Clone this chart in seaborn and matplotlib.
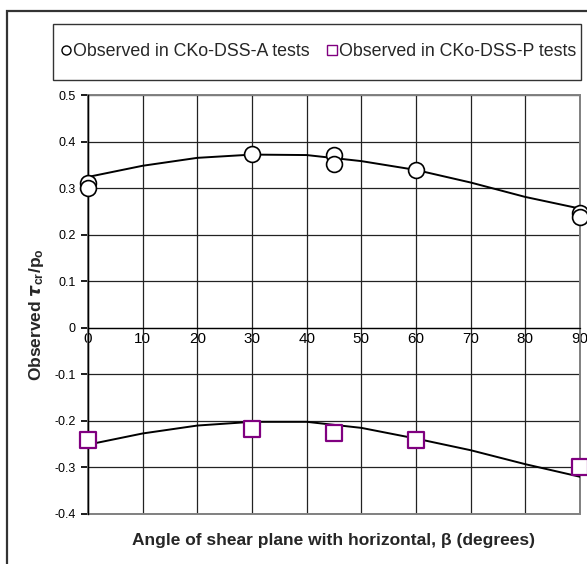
import matplotlib
matplotlib.use("Agg")
import matplotlib.pyplot as plt
from matplotlib.patches import Rectangle
from matplotlib.lines import Line2D
import seaborn as sns
import pandas as pd

sns.set_theme(style="white")
plt.rcParams["font.family"] = ["Liberation Sans", "DejaVu Sans"]
plt.rcParams["mathtext.fontset"] = "custom"
plt.rcParams["mathtext.rm"] = "Liberation Sans"
plt.rcParams["mathtext.bf"] = "Liberation Sans:bold"
plt.rcParams["mathtext.it"] = "Liberation Sans:italic"

# Observed shear strength ratios, active-type tests
beta_a = [0, 0, 30, 45, 45, 60, 90, 90]
tau_a = [0.31, 0.30, 0.373, 0.371, 0.352, 0.339, 0.246, 0.239]

# Observed shear strength ratios, passive-type tests
beta_p = [0, 30, 45, 60, 90]
tau_p = [-0.240, -0.217, -0.225, -0.240, -0.300]

# Trend curves through each data set
beta_fit = [0, 10, 20, 30, 40, 50, 60, 70, 80, 90]
fit_a = [0.324, 0.348, 0.365, 0.372, 0.371, 0.358, 0.339, 0.312, 0.281, 0.256]
fit_p = [-0.251, -0.227, -0.210, -0.202, -0.202, -0.215, -0.238, -0.263, -0.293, -0.320]

x_ticks = [0, 10, 20, 30, 40, 50, 60, 70, 80, 90]
y_ticks = [0.5, 0.4, 0.3, 0.2, 0.1, 0.0, -0.1, -0.2, -0.3, -0.4]

label_a = "Observed in CKo-DSS-A tests"
label_p = "Observed in CKo-DSS-P tests"
purple = "#800080"

fig = plt.figure(figsize=(5.87, 5.64), dpi=100)
ax = fig.add_axes([88 / 587, 1 - 514 / 564, 492 / 587, 419 / 564])

# Grid
for xv in x_ticks:
    ax.axvline(xv, color="#222222", lw=0.9, zorder=1)
for yv in y_ticks:
    ax.axhline(yv, color="#222222", lw=0.9, zorder=1)

fit_df = pd.DataFrame({"beta": beta_fit, "A": fit_a, "P": fit_p})
sns.lineplot(data=fit_df, x="beta", y="A", ax=ax, color="black", lw=1.4, zorder=3)
sns.lineplot(data=fit_df, x="beta", y="P", ax=ax, color="black", lw=1.4, zorder=3)

df_a = pd.DataFrame({"beta": beta_a, "tau": tau_a})
df_p = pd.DataFrame({"beta": beta_p, "tau": tau_p})
sns.scatterplot(data=df_a, x="beta", y="tau", ax=ax, marker="o", s=130,
                facecolor="white", edgecolor="black", linewidth=1.2,
                zorder=5, clip_on=False)
sns.scatterplot(data=df_p, x="beta", y="tau", ax=ax, marker="s", s=125,
                facecolor="white", edgecolor=purple, linewidth=1.6,
                zorder=5, clip_on=False)

ax.set_xlim(0, 90)
ax.set_ylim(-0.4, 0.5)
ax.set_yticks(y_ticks)
ax.set_yticklabels([("%g" % v) for v in y_ticks], fontsize=9)
ax.set_xticks(x_ticks)
ax.set_xticklabels([str(v) for v in x_ticks], fontsize=9)

# x axis crosses at zero, labels sit just under it
ax.spines["bottom"].set_position(("data", 0))
ax.spines["bottom"].set_color("black")
ax.spines["bottom"].set_linewidth(0.9)
ax.spines["left"].set_color("black")
ax.spines["left"].set_linewidth(1.0)
ax.spines["top"].set_visible(False)
ax.spines["right"].set_visible(False)
ax.tick_params(axis="x", length=0, pad=3, colors="black")
ax.tick_params(axis="y", length=5, direction="out", left=True, pad=4, colors="black")
ax.add_patch(Rectangle((0, 0), 1, 1, transform=ax.transAxes, fill=False,
                       ec="#808080", lw=1.4, zorder=2, clip_on=False))

ax.set_xlabel("")
ax.set_ylabel(r"Observed $\boldsymbol{\tau}_{\mathbf{cr}}\mathbf{/p}_{\mathbf{o}}$",
              fontsize=12.5, fontweight="bold")
ax.yaxis.set_label_coords(-0.085, 0.475)
fig.text(334 / 587, 1 - 540 / 564,
         "Angle of shear plane with horizontal, β (degrees)",
         ha="center", va="center", fontsize=12.5, fontweight="bold")

# Legend box and entries
fig.add_artist(Rectangle((53 / 587, 1 - 80 / 564), 528 / 587, 56 / 564,
                         transform=fig.transFigure, fill=False,
                         ec="#333333", lw=1.0))
handles = [
    Line2D([], [], marker="o", ls="none", markersize=6.5, markerfacecolor="white",
           markeredgecolor="black", markeredgewidth=1.0, label=label_a),
    Line2D([], [], marker="s", ls="none", markersize=6.5, markerfacecolor="white",
           markeredgecolor=purple, markeredgewidth=1.0, label=label_p),
]
fig.legend(handles=handles, loc="center", ncol=2,
           bbox_to_anchor=(319 / 587, 1 - 52 / 564),
           fontsize=12.8, frameon=False,
           handlelength=0.5, handletextpad=0.15, columnspacing=1.0,
           borderpad=0, borderaxespad=0)

# Chart area border
fig.add_artist(Rectangle((7 / 587, -0.2), 1.2, 1 - 11 / 564 + 0.2,
                         transform=fig.transFigure, fill=False,
                         ec="#333333", lw=1.6, clip_on=False))

fig.savefig("out.png", dpi=100)
